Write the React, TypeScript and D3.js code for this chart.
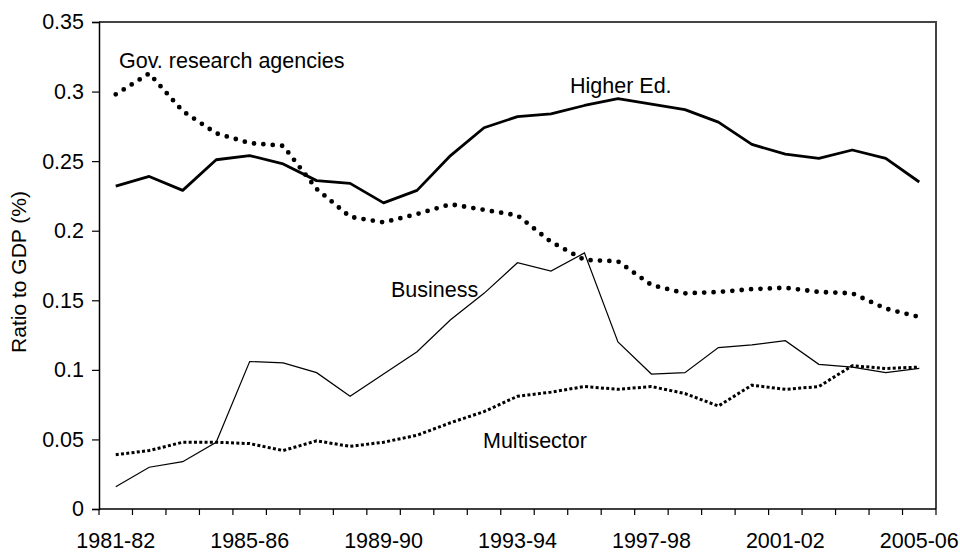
import React, { useEffect, useRef } from 'react';
import * as d3 from 'd3';

// financial years, one per point
const years = [
  '1981-82', '1982-83', '1983-84', '1984-85', '1985-86', '1986-87', '1987-88',
  '1988-89', '1989-90', '1990-91', '1991-92', '1992-93', '1993-94', '1994-95',
  '1995-96', '1996-97', '1997-98', '1998-99', '1999-00', '2000-01', '2001-02',
  '2002-03', '2003-04', '2004-05', '2005-06',
];
const tickLabels = ['1981-82', '1985-86', '1989-90', '1993-94', '1997-98', '2001-02', '2005-06'];
const yTicks = [0, 0.05, 0.1, 0.15, 0.2, 0.25, 0.3, 0.35];

const higherEd = [
  0.232, 0.239, 0.229, 0.251, 0.254, 0.248, 0.236, 0.234, 0.220, 0.229, 0.254, 0.274, 0.282,
  0.284, 0.290, 0.295, 0.291, 0.287, 0.278, 0.262, 0.255, 0.252, 0.258, 0.252, 0.235,
];
const govAgencies = [
  0.298, 0.313, 0.286, 0.270, 0.263, 0.261, 0.230, 0.210, 0.206, 0.212, 0.219, 0.215, 0.211,
  0.192, 0.179, 0.178, 0.161, 0.155, 0.156, 0.158, 0.159, 0.156, 0.155, 0.144, 0.138,
];
const business = [
  0.016, 0.030, 0.034, 0.048, 0.106, 0.105, 0.098, 0.081, 0.097, 0.113, 0.136, 0.155, 0.177,
  0.171, 0.184, 0.120, 0.097, 0.098, 0.116, 0.118, 0.121, 0.104, 0.102, 0.098, 0.101,
];
const multisector = [
  0.039, 0.042, 0.048, 0.048, 0.047, 0.042, 0.049, 0.045, 0.048, 0.053, 0.062, 0.070, 0.081,
  0.084, 0.088, 0.086, 0.088, 0.083, 0.074, 0.089, 0.086, 0.088, 0.103, 0.101, 0.102,
];

const FONT = 'Liberation Sans, Arial, sans-serif';

const App = () => {
  const ref = useRef<SVGSVGElement | null>(null);

  useEffect(() => {
    const svg = d3.select(ref.current);
    svg.selectAll('*').remove();

    const width = 960;
    const height = 552;
    const marginLeft = 99;
    const marginRight = 24;
    const marginTop = 22;
    const marginBottom = 43;

    const x = d3.scaleBand<string>()
      .domain(years)
      .range([marginLeft, width - marginRight]);
    const cx = (d: string) => (x(d) as number) + x.bandwidth() / 2;

    const y = d3.scaleLinear()
      .domain([0, 0.35])
      .range([height - marginBottom, marginTop]);

    // frame top + right
    svg.append('path')
      .attr('d', `M${marginLeft},${marginTop}H${width - marginRight}V${height - marginBottom}`)
      .attr('fill', 'none')
      .attr('stroke', '#444')
      .attr('stroke-width', 2);

    // y axis
    const yAxis = svg.append('g')
      .attr('transform', `translate(${marginLeft},0)`)
      .call(d3.axisLeft(y).tickValues(yTicks).tickSize(7).tickPadding(8)
        .tickFormat(d => (d === 0 ? '0' : String(+d))));
    yAxis.select('.domain').attr('stroke', '#000').attr('stroke-width', 1.5);
    yAxis.selectAll('.tick line').attr('stroke', '#000').attr('stroke-width', 1.2);
    yAxis.selectAll('text').attr('font-family', FONT).attr('font-size', 21.5).attr('fill', '#000');

    // x axis: ticks at band edges
    const xEdges = d3.range(years.length + 1).map(i => marginLeft + i * x.step());
    const xg = svg.append('g');
    xg.append('line')
      .attr('x1', marginLeft).attr('x2', width - marginRight)
      .attr('y1', y(0)).attr('y2', y(0))
      .attr('stroke', '#000').attr('stroke-width', 1.5);
    xg.selectAll('line.tk')
      .data(xEdges)
      .join('line')
      .attr('class', 'tk')
      .attr('x1', d => d).attr('x2', d => d)
      .attr('y1', y(0)).attr('y2', y(0) + 6)
      .attr('stroke', '#000').attr('stroke-width', 1.2);
    xg.selectAll('text')
      .data(tickLabels)
      .join('text')
      .attr('x', d => cx(d))
      .attr('y', 548)
      .attr('text-anchor', 'middle')
      .attr('font-family', FONT)
      .attr('font-size', 21.5)
      .text(d => d);

    // y title
    svg.append('text')
      .attr('transform', 'translate(26,272) rotate(-90)')
      .attr('text-anchor', 'middle')
      .attr('font-family', FONT)
      .attr('font-size', 21)
      .text('Ratio to GDP (%)');

    const line = d3.line<number>()
      .x((_, i) => cx(years[i]))
      .y(d => y(d));

    svg.append('path')
      .datum(multisector)
      .attr('d', line)
      .attr('fill', 'none')
      .attr('stroke', '#000')
      .attr('stroke-width', 3)
      .attr('stroke-dasharray', '3 2.3');

    svg.append('path')
      .datum(business)
      .attr('d', line)
      .attr('fill', 'none')
      .attr('stroke', '#000')
      .attr('stroke-width', 1.2);

    svg.append('path')
      .datum(govAgencies)
      .attr('d', line)
      .attr('fill', 'none')
      .attr('stroke', '#000')
      .attr('stroke-width', 4.8)
      .attr('stroke-linecap', 'round')
      .attr('stroke-dasharray', '0 9.4');

    svg.append('path')
      .datum(higherEd)
      .attr('d', line)
      .attr('fill', 'none')
      .attr('stroke', '#000')
      .attr('stroke-width', 2.8)
      .attr('stroke-linejoin', 'round');

    // series labels
    const labels = [
      { text: 'Gov. research agencies', x: 119, y: 68 },
      { text: 'Higher Ed.', x: 570, y: 93 },
      { text: 'Business', x: 391, y: 297 },
      { text: 'Multisector', x: 483, y: 448 },
    ];
    svg.selectAll('text.lbl')
      .data(labels)
      .join('text')
      .attr('class', 'lbl')
      .attr('x', d => d.x)
      .attr('y', d => d.y)
      .attr('font-family', FONT)
      .attr('font-size', 21.5)
      .text(d => d.text);
  }, []);

  return (
    <svg
      ref={ref}
      width={960}
      height={552}
      style={{ position: 'absolute', left: 0, top: 0, background: '#fff' }}
    />
  );
};

export default App;
